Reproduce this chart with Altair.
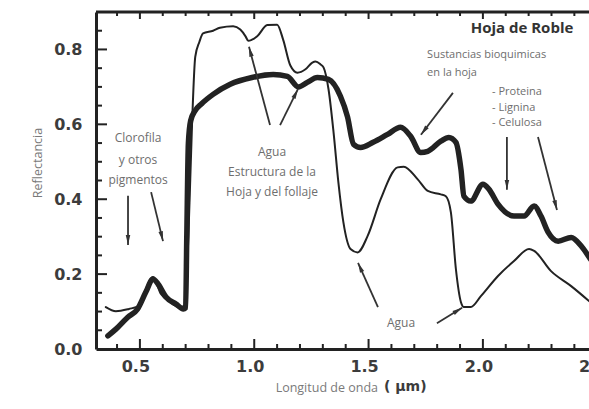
import math
import altair as alt
import pandas as pd

# ---------------- data ----------------
# thick curve
thick_wl = [0.36, 0.395, 0.447, 0.49, 0.526, 0.557, 0.58, 0.614, 0.658, 0.69,
            0.700, 0.705, 0.712, 0.722, 0.74, 0.77, 0.82, 0.895, 0.99, 1.083,
            1.145, 1.193, 1.232, 1.276, 1.325, 1.377, 1.408, 1.434, 1.465, 1.52,
            1.583, 1.64, 1.684, 1.728, 1.759, 1.816, 1.851, 1.882, 1.904, 1.917,
            1.947, 2.0, 2.026, 2.066, 2.136, 2.18, 2.224, 2.254, 2.285, 2.329,
            2.386, 2.43, 2.47]
thick_r = [0.035, 0.053, 0.085, 0.107, 0.152, 0.187, 0.173, 0.139, 0.12, 0.107,
           0.11, 0.30, 0.55, 0.61, 0.635, 0.655, 0.68, 0.707, 0.725, 0.733,
           0.728, 0.700, 0.712, 0.725, 0.72, 0.675, 0.62, 0.547, 0.538, 0.552,
           0.573, 0.592, 0.568, 0.525, 0.528, 0.555, 0.565, 0.552, 0.48, 0.408,
           0.395, 0.44, 0.427, 0.387, 0.355, 0.355, 0.382, 0.355, 0.312, 0.288,
           0.298, 0.275, 0.24]

# thin curve
thin_wl = [0.351, 0.395, 0.452, 0.496, 0.526, 0.557, 0.592, 0.627, 0.671, 0.695,
           0.712, 0.728, 0.742, 0.76, 0.776, 0.82, 0.85, 0.908, 0.939, 0.962,
           0.974, 0.99, 1.013, 1.057, 1.1, 1.127, 1.158, 1.189, 1.224, 1.254,
           1.268, 1.29, 1.303, 1.325, 1.347, 1.368, 1.39, 1.421, 1.452, 1.496,
           1.553, 1.627, 1.654, 1.715, 1.759, 1.816, 1.838, 1.86, 1.882, 1.904,
           1.917, 1.947, 1.991, 2.066, 2.136, 2.202, 2.224, 2.298, 2.386, 2.47]
thin_r = [0.112, 0.101, 0.107, 0.115, 0.16, 0.192, 0.147, 0.128, 0.112, 0.115,
          0.30, 0.60, 0.78, 0.82, 0.843, 0.85, 0.858, 0.862, 0.853, 0.835,
          0.823, 0.826, 0.835, 0.865, 0.866, 0.825, 0.757, 0.738, 0.747, 0.765,
          0.768, 0.76, 0.752, 0.693, 0.578, 0.445, 0.338, 0.267, 0.258, 0.302,
          0.4, 0.485, 0.487, 0.453, 0.422, 0.413, 0.408, 0.365, 0.213, 0.125,
          0.112, 0.112, 0.141, 0.195, 0.235, 0.267, 0.262, 0.208, 0.168, 0.125]

# axes
x_tick_values = [0.5, 1.0, 1.5, 2.0, 2.5]
x_tick_labels = ["0.5", "1.0", "1.5", "2.0", "2.5"]
y_tick_values = [0.0, 0.2, 0.4, 0.6, 0.8]
x_major_ticks = [0.5, 1.0, 1.5, 2.0]
x_minor_ticks = [0.4, 0.6, 0.7, 0.8, 0.9, 1.1, 1.2, 1.3, 1.4, 1.6, 1.7, 1.8,
                 1.9, 2.1, 2.2, 2.3, 2.4]
y_major_ticks = [0.2, 0.4, 0.6, 0.8]
y_minor_ticks = [0.05, 0.1, 0.15, 0.25, 0.3, 0.35, 0.45, 0.5, 0.55, 0.65,
                 0.7, 0.75, 0.85]
x_title = "Longitud de onda"
x_title_unit = "(  \u03bcm)"
y_title = "Reflectancia"

# annotations (data units)
center_note_text = ["Clorofila", "y otros", "pigmentos",
                    "Agua", "Estructura de la", "Hoja y del follaje", "Agua"]
center_note_x = [0.492, 0.492, 0.492, 1.078, 1.078, 1.078, 1.642]
center_note_y = [0.564, 0.505, 0.451, 0.526, 0.473, 0.419, 0.069]

left_note_text = ["Sustancias bioquimicas", "en la hoja",
                  "- Proteina", "- Lignina", "- Celulosa"]
left_note_x = [1.756, 1.756, 2.040, 2.040, 2.040]
left_note_y = [0.785, 0.737, 0.686, 0.643, 0.603]

heading_text = ["Hoja de Roble"]
heading_x = [2.171]
heading_y = [0.857]

arrow_x1 = [0.448, 0.549, 1.069, 1.113, 1.869, 2.105, 2.241, 1.541, 1.799]
arrow_y1 = [0.409, 0.419, 0.598, 0.598, 0.684, 0.566, 0.566, 0.112, 0.069]
arrow_x2 = [0.448, 0.601, 0.977, 1.191, 1.729, 2.105, 2.324, 1.454, 1.909]
arrow_y2 = [0.278, 0.288, 0.807, 0.694, 0.572, 0.425, 0.371, 0.230, 0.110]

# ---------------- layout / style ----------------
W, H = 493, 337
XD = [0.308, 2.464]
YD = [0.0, 0.9]
INK = "#222222"
LABEL = "#3c3c3c"
NOTE = "#6e6e6e"
NOTE_FONT = "Open Sans"

xs = alt.Scale(domain=XD, nice=False, zero=False)
ys = alt.Scale(domain=YD, nice=False, zero=False)
xaxis = alt.Axis(labels=False, ticks=False, title=None, grid=False,
                 domainWidth=3, domainColor=INK)
yaxis = alt.Axis(values=y_tick_values, format=".1f", ticks=False, grid=False,
                 title=None, labelFont="DejaVu Sans", labelFontWeight="bold",
                 labelFontSize=16, labelColor=LABEL, labelPadding=14,
                 domainWidth=3, domainColor=INK)


def X(f):
    return alt.X(f, type="quantitative", scale=xs, axis=xaxis)


def Y(f):
    return alt.Y(f, type="quantitative", scale=ys, axis=yaxis)


thick_df = pd.DataFrame({"wl": thick_wl, "r": thick_r, "i": range(len(thick_wl))})
thin_df = pd.DataFrame({"wl": thin_wl, "r": thin_r, "i": range(len(thin_wl))})

thick = alt.Chart(thick_df).mark_line(
    clip=True, color=INK, strokeWidth=5.5, strokeJoin="round", strokeCap="round",
    interpolate="monotone"
).encode(x=X("wl"), y=Y("r"), order=alt.Order("i:Q"))

thin = alt.Chart(thin_df).mark_line(
    clip=True, color=INK, strokeWidth=2, strokeJoin="round", strokeCap="round",
    interpolate="monotone"
).encode(x=X("wl"), y=Y("r"), order=alt.Order("i:Q"))

# arrows
px_x = W / (XD[1] - XD[0])
px_y = H / (YD[1] - YD[0])
angles = [
    math.degrees(math.atan2((bx - ax) * px_x, (by - ay) * px_y)) % 360
    for ax, ay, bx, by in zip(arrow_x1, arrow_y1, arrow_x2, arrow_y2)
]
arrow_df = pd.DataFrame({"x1": arrow_x1, "y1": arrow_y1, "x2": arrow_x2,
                         "y2": arrow_y2, "ang": angles})
arrow_lines = alt.Chart(arrow_df).mark_rule(color="#333333", strokeWidth=1.8).encode(
    x=X("x1"), y=Y("y1"), x2=alt.X2("x2"), y2=alt.Y2("y2"))
arrow_heads = alt.Chart(arrow_df).mark_point(
    shape="M0,0 L0.5,2.2 L-0.5,2.2 Z", filled=True, size=81,
    color="#333333", opacity=1, strokeWidth=0
).encode(x=X("x2"), y=Y("y2"), angle=alt.Angle("ang:Q", scale=None))

# frame & ticks
top_border = alt.Chart(pd.DataFrame({"t": [0]})).mark_rule(
    color=INK, strokeWidth=3).encode(
    x=alt.value(0), x2=alt.value(W), y=alt.value(0))


def xticks(vals, y0, y1):
    return alt.Chart(pd.DataFrame({"t": vals})).mark_rule(
        color=INK, strokeWidth=2).encode(x=X("t"), y=alt.value(y0), y2=alt.value(y1))


def yticks(vals, length):
    return alt.Chart(pd.DataFrame({"t": vals})).mark_rule(
        color=INK, strokeWidth=2).encode(y=Y("t"), x=alt.value(0), x2=alt.value(length))


ticks = [
    xticks(x_minor_ticks, H, H - 5), xticks(x_major_ticks, H, H - 10),
    xticks(x_minor_ticks, 0, 4), xticks(x_major_ticks, 0, 7),
    yticks(y_minor_ticks, 6), yticks(y_major_ticks, 11),
]

x_labels = alt.Chart(pd.DataFrame({"v": x_tick_values, "lab": x_tick_labels})).mark_text(
    font="DejaVu Sans", fontWeight="bold", fontSize=16, color=LABEL,
    baseline="middle", dx=-4
).encode(x=X("v"), y=alt.value(H + 18), text="lab:N")

xt1 = alt.Chart(pd.DataFrame({"t": [x_title]})).mark_text(
    font=NOTE_FONT, fontSize=12.5, color="#7a7a7a", align="right", baseline="middle"
).encode(x=alt.value(282), y=alt.value(H + 39), text="t:N")
xt2 = alt.Chart(pd.DataFrame({"t": [x_title_unit]})).mark_text(
    font="DejaVu Sans", fontWeight="bold", fontSize=14, color=LABEL,
    align="left", baseline="middle"
).encode(x=alt.value(288), y=alt.value(H + 38), text="t:N")
yt = alt.Chart(pd.DataFrame({"t": [y_title]})).mark_text(
    font=NOTE_FONT, fontSize=12.5, color="#7a7a7a", angle=270, baseline="middle"
).encode(x=alt.value(-58), y=alt.value(151), text="t:N")

center_notes = alt.Chart(pd.DataFrame({"x": center_note_x, "y": center_note_y,
                                       "t": center_note_text})).mark_text(
    font=NOTE_FONT, fontSize=12, color=NOTE, baseline="middle", align="center"
).encode(x=X("x"), y=Y("y"), text="t:N")
left_notes = alt.Chart(pd.DataFrame({"x": left_note_x, "y": left_note_y,
                                     "t": left_note_text})).mark_text(
    font=NOTE_FONT, fontSize=11, color=NOTE, baseline="middle", align="left"
).encode(x=X("x"), y=Y("y"), text="t:N")
heading = alt.Chart(pd.DataFrame({"x": heading_x, "y": heading_y,
                                  "t": heading_text})).mark_text(
    font=NOTE_FONT, fontSize=15, fontWeight="bold", color="#333333",
    baseline="middle", align="center"
).encode(x=X("x"), y=Y("y"), text="t:N")

chart = alt.layer(
    *ticks, top_border, thin, thick, arrow_lines, arrow_heads,
    center_notes, left_notes, heading, x_labels, xt1, xt2, yt
).properties(
    width=W, height=H,
    autosize=alt.AutoSizeParams(type="none"),
    padding={"left": 96, "top": 12, "right": 0, "bottom": 60},
    background="white",
).configure_view(stroke=None)

chart.save("out.html", embed_options={"renderer": "svg", "actions": False})
